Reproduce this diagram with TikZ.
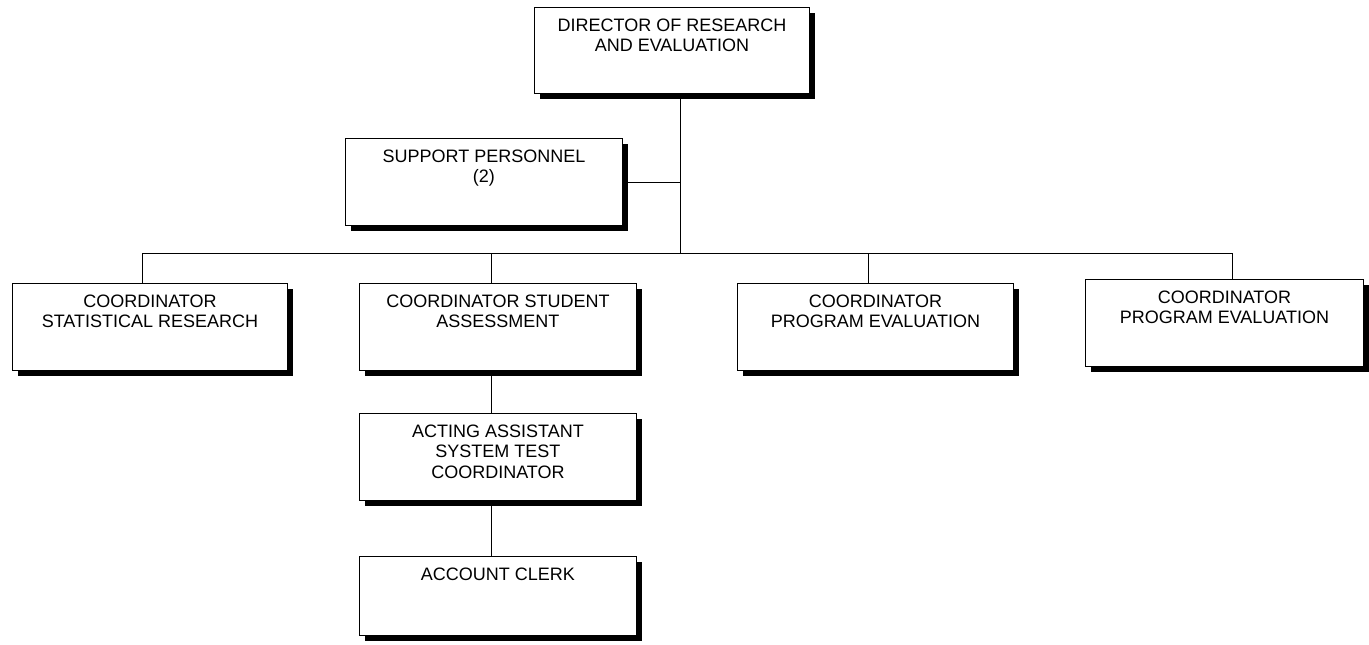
\documentclass[tikz,border=0pt]{standalone}
\usepackage{fontspec}
\setmainfont{Liberation Sans}
\usetikzlibrary{shadows}

% Box text: top-aligned lines inside a fixed-size frame
\newcommand{\orgtext}[3]{%
  \begin{minipage}[t][#2][t]{#1}\centering
    \fontsize{18}{20.5}\selectfont\rule{0pt}{24pt}#3%
  \end{minipage}}

\tikzset{
  orgbox/.style={draw=black, line width=0.9pt, fill=white, inner sep=0pt,
    anchor=north west,
    drop shadow={shadow xshift=5.5pt, shadow yshift=-5.5pt, fill=black, opacity=1}},
  link/.style={draw=black, line width=0.9pt}
}

\begin{document}
\begin{tikzpicture}[x=1pt, y=-1pt]
  \useasboundingbox (0,0) rectangle (1369,645);

  % boxes
  \node[orgbox] (dir)   at (534,7)    {\orgtext{275pt}{86pt}{DIRECTOR OF RESEARCH\\AND EVALUATION}};
  \node[orgbox] (sup)   at (345,138)  {\orgtext{277pt}{87pt}{SUPPORT PERSONNEL\\(2)}};
  \node[orgbox] (stat)  at (12,283)   {\orgtext{275pt}{87pt}{COORDINATOR\\STATISTICAL RESEARCH}};
  \node[orgbox] (stud)  at (359,283)  {\orgtext{277pt}{87pt}{COORDINATOR STUDENT\\ASSESSMENT}};
  \node[orgbox] (pea)   at (737,283)  {\orgtext{276pt}{87pt}{COORDINATOR\\PROGRAM EVALUATION}};
  \node[orgbox] (peb)   at (1085,279) {\orgtext{278pt}{87pt}{COORDINATOR\\PROGRAM EVALUATION}};
  \node[orgbox] (act)   at (359,413)  {\orgtext{277pt}{87pt}{ACTING ASSISTANT\\SYSTEM TEST\\COORDINATOR}};
  \node[orgbox] (clerk) at (359,556)  {\orgtext{277pt}{79pt}{ACCOUNT CLERK}};

  % trunk and bus points
  \coordinate (bus) at (680,253);
  \coordinate (d1)  at (142,253);
  \coordinate (d2)  at (491,253);
  \coordinate (d3)  at (868,253);
  \coordinate (d4)  at (1232,253);

  % connectors
  \draw[link] (bus |- dir.south) -- (bus);
  \draw[link] (sup.east) -- (sup.east -| bus);
  \draw[link] (d1) -- (d4);
  \draw[link] (d1) -- (d1 |- stat.north);
  \draw[link] (d2) -- (d2 |- stud.north);
  \draw[link] (d3) -- (d3 |- pea.north);
  \draw[link] (d4) -- (d4 |- peb.north);
  \draw[link] (d2 |- stud.south) -- (d2 |- act.north);
  \draw[link] (d2 |- act.south) -- (d2 |- clerk.north);
\end{tikzpicture}
\end{document}
